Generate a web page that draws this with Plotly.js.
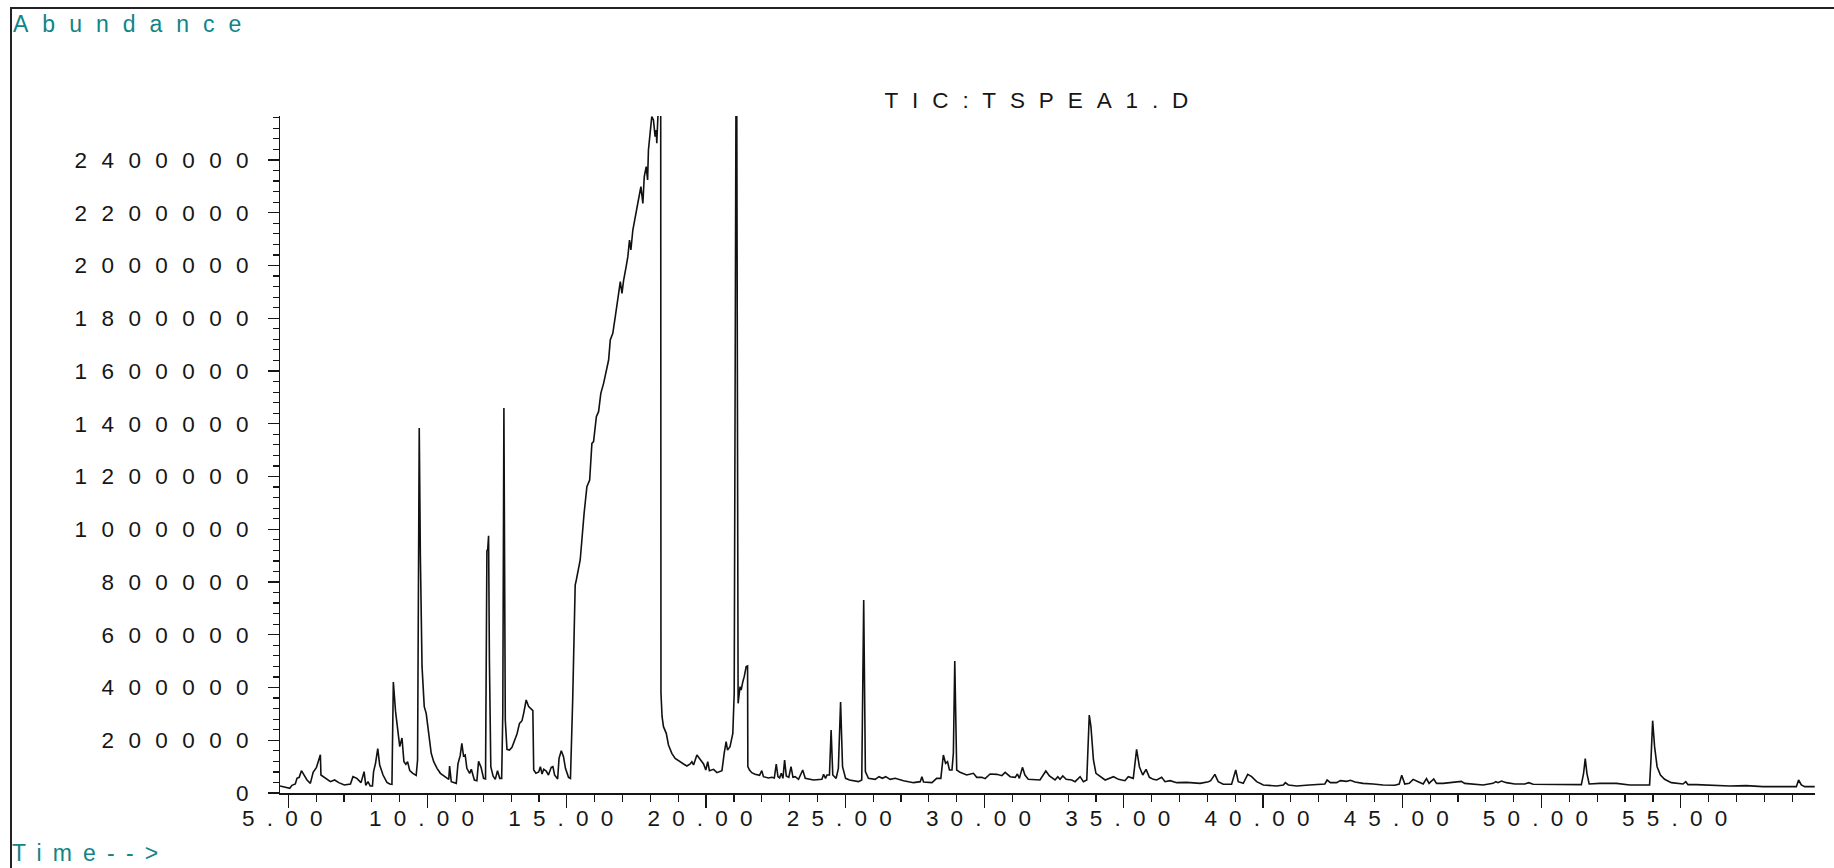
<!DOCTYPE html>
<html>
<head>
<meta charset="utf-8">
<script src="https://cdn.plot.ly/plotly-3.0.1.min.js"></script>
<style>
  html, body { margin: 0; padding: 0; background: #fff; }
  #chart { width: 1834px; height: 868px; }
  .xtick text { letter-spacing: 12.2px; }
  .ytick text { letter-spacing: 14.4px; }
  text.gtitle { letter-spacing: 13.9px; word-spacing: -20px; }
  g.annotation[data-index="0"] text { letter-spacing: 14px; }
  g.annotation[data-index="1"] text { letter-spacing: 11.2px; }
</style>
</head>
<body>
<div id="chart"></div>
<script>
// Retention time (min)
const times = [
  4.70, 4.83, 4.95, 5.05, 5.13, 5.25, 5.31, 5.39, 5.47, 5.55, 5.67, 5.79, 5.89, 6.01, 6.15, 6.17,
  6.33, 6.51, 6.66, 6.81, 7.01, 7.23, 7.32, 7.46, 7.61, 7.72, 7.78, 7.86, 7.94, 8.02, 8.06, 8.13,
  8.21, 8.28, 8.40, 8.54, 8.64, 8.72, 8.77, 8.85, 9.00, 9.08, 9.15, 9.22, 9.28, 9.36, 9.47, 9.59,
  9.64, 9.67, 9.70, 9.74, 9.80, 9.88, 9.95, 10.04, 10.13, 10.22, 10.34, 10.46, 10.64, 10.76, 10.79, 10.85,
  11.03, 11.09, 11.17, 11.23, 11.29, 11.35, 11.41, 11.51, 11.57, 11.68, 11.77, 11.83, 11.92, 12.01, 12.08, 12.11,
  12.13, 12.16, 12.19, 12.22, 12.27, 12.35, 12.43, 12.51, 12.59, 12.66, 12.70, 12.74, 12.79, 12.85, 12.94, 13.03,
  13.11, 13.21, 13.30, 13.39, 13.45, 13.51, 13.54, 13.63, 13.71, 13.78, 13.81, 13.89, 13.99, 14.05, 14.11, 14.17,
  14.26, 14.34, 14.44, 14.50, 14.56, 14.67, 14.72, 14.80, 14.88, 14.95, 15.06, 15.13, 15.21, 15.27, 15.30, 15.34,
  15.48, 15.62, 15.72, 15.82, 15.90, 15.96, 16.06, 16.14, 16.22, 16.32, 16.41, 16.50, 16.56, 16.65, 16.74, 16.83,
  16.92, 16.98, 17.04, 17.13, 17.19, 17.25, 17.30, 17.37, 17.45, 17.51, 17.57, 17.66, 17.73, 17.78, 17.85, 17.90,
  17.93, 17.99, 18.05, 18.11, 18.17, 18.21, 18.23, 18.27, 18.32, 18.37, 18.38, 18.42, 18.47, 18.57, 18.65, 18.77,
  18.89, 19.05, 19.19, 19.31, 19.43, 19.49, 19.55, 19.67, 19.79, 19.91, 19.99, 20.06, 20.12, 20.27, 20.39, 20.57,
  20.65, 20.72, 20.77, 20.86, 20.96, 21.01, 21.09, 21.15, 21.22, 21.26, 21.32, 21.37, 21.44, 21.49, 21.50, 21.56,
  21.64, 21.76, 21.92, 22.00, 22.06, 22.24, 22.36, 22.45, 22.52, 22.58, 22.64, 22.70, 22.76, 22.82, 22.88, 22.97,
  23.05, 23.12, 23.20, 23.32, 23.47, 23.56, 23.86, 24.16, 24.22, 24.29, 24.34, 24.43, 24.49, 24.55, 24.67, 24.75,
  24.83, 24.90, 25.01, 25.15, 25.47, 25.59, 25.66, 25.72, 25.83, 26.07, 26.21, 26.33, 26.45, 26.61, 26.79, 27.09,
  27.45, 27.69, 27.75, 27.81, 28.11, 28.28, 28.43, 28.52, 28.60, 28.67, 28.74, 28.83, 28.88, 28.93, 29.00, 29.12,
  29.36, 29.60, 29.72, 29.90, 30.02, 30.20, 30.44, 30.62, 30.74, 30.92, 31.10, 31.18, 31.25, 31.36, 31.45, 31.57,
  31.99, 32.20, 32.33, 32.53, 32.63, 32.71, 32.81, 32.93, 33.13, 33.25, 33.43, 33.55, 33.67, 33.76, 33.82, 33.91,
  34.00, 34.15, 34.33, 34.63, 34.81, 35.04, 35.16, 35.34, 35.46, 35.56, 35.68, 35.80, 35.92, 36.06, 36.18, 36.36,
  36.48, 36.66, 36.90, 37.26, 37.74, 38.04, 38.12, 38.27, 38.39, 38.57, 38.87, 39.02, 39.11, 39.29, 39.45, 39.59,
  39.77, 40.01, 40.49, 40.73, 40.80, 40.91, 41.21, 41.66, 42.04, 42.22, 42.30, 42.42, 42.64, 42.78, 43.00, 43.14,
  43.30, 43.59, 43.95, 44.31, 44.73, 44.89, 44.98, 45.09, 45.25, 45.39, 45.57, 45.75, 45.87, 45.96, 46.13, 46.23,
  46.47, 46.82, 47.12, 47.24, 47.54, 47.90, 48.26, 48.36, 48.44, 48.56, 48.74, 49.04, 49.40, 49.54, 49.70, 50.29,
  51.01, 51.43, 51.51, 51.57, 51.63, 51.71, 52.09, 52.69, 53.17, 53.88, 53.93, 53.99, 54.06, 54.15, 54.27, 54.42,
  54.66, 54.84, 55.08, 55.18, 55.26, 55.56, 56.04, 56.76, 57.35, 57.95, 58.67, 59.15, 59.23, 59.33, 59.45, 59.81
];

// Total ion current abundance
const abundance = [
  26500, 24000, 21000, 17700, 29100, 34100, 55600, 59400, 84700, 68200, 49300, 36600, 78400, 97300, 145300, 68200,
  55600, 43000, 49300, 39200, 30300, 34100, 61900, 55600, 39200, 80900, 29100, 43000, 26500, 26500, 80900, 112500,
  168100, 106200, 68200, 40400, 34100, 32900, 420900, 308400, 175700, 208500, 118800, 108700, 118800, 84700, 74600, 67000,
  125100, 700000, 1384000, 900000, 480000, 327300, 302000, 226200, 150400, 118800, 93500, 74600, 59400, 51800, 102400, 43000,
  36600, 110000, 141500, 188300, 140300, 144100, 93500, 74600, 89700, 49300, 46800, 120100, 97300, 55600, 53100, 400000,
  917500, 925000, 975600, 500000, 99800, 64500, 51800, 84700, 55600, 55600, 300000, 1459700, 276800, 165600, 163000, 173100,
  194600, 223700, 264100, 274200, 302000, 346300, 352600, 327300, 317200, 312200, 87200, 74600, 79600, 99800, 72000, 89700,
  83400, 68200, 97300, 99800, 68200, 53100, 131400, 160500, 137800, 93500, 59400, 55600, 352600, 757000, 788600, 807600,
  883400, 1060300, 1161400, 1186700, 1325700, 1332000, 1426800, 1445800, 1515300, 1553200, 1603700, 1641600, 1717500, 1742700, 1805900, 1881800,
  1938600, 1894400, 1945000, 1995500, 2033400, 2096600, 2058700, 2134500, 2185100, 2210400, 2248300, 2298800, 2235600, 2336700, 2374600, 2324100,
  2437900, 2501000, 2564200, 2551600, 2488400, 2513700, 2463200, 2564200, 2650000, 2750000, 377900, 289400, 251500, 226200, 182000, 150400,
  131400, 118800, 110000, 102400, 110000, 118800, 106200, 144100, 125100, 110000, 87200, 118800, 84700, 89700, 77100, 84700,
  150400, 194600, 163000, 175700, 226200, 377900, 3200000, 340000, 403100, 390500, 422100, 441100, 479000, 481500, 99800, 87200,
  77100, 70800, 67000, 84700, 61900, 56900, 59400, 56900, 110000, 61900, 56900, 74600, 55600, 125100, 64500, 59400,
  100000, 59400, 61900, 51800, 87200, 55600, 49300, 51800, 70800, 55600, 68200, 68200, 238900, 68200, 55600, 93500,
  345000, 99800, 55600, 49300, 43000, 49300, 731700, 80900, 55600, 51800, 61900, 55600, 61900, 51800, 55600, 46800,
  39200, 43000, 61900, 41700, 39200, 55600, 55600, 144100, 112500, 118800, 87200, 87200, 150000, 500500, 87200, 78400,
  68200, 74600, 59400, 59400, 54300, 72000, 70800, 65700, 78400, 61900, 59400, 72000, 55600, 97300, 68200, 51800,
  49300, 83400, 64500, 49300, 61900, 51800, 64500, 51800, 49300, 43000, 61900, 43000, 49300, 295700, 251500, 125100,
  74600, 61900, 49300, 61900, 51800, 46800, 61900, 55600, 165600, 99800, 68200, 89700, 59400, 51800, 49300, 59400,
  43000, 46800, 39200, 40400, 36600, 43000, 46800, 70800, 43000, 32900, 32900, 87200, 43000, 36600, 70800, 61900,
  43000, 30300, 26500, 30300, 39200, 30300, 26500, 30300, 34100, 34100, 49300, 39200, 39200, 46800, 44200, 48000,
  41700, 36600, 34100, 30300, 29100, 34100, 67000, 34100, 36600, 51800, 43000, 34100, 54300, 36600, 53100, 36600,
  36600, 39200, 44200, 36600, 34100, 30300, 36600, 43000, 39200, 45500, 39200, 34100, 34100, 39200, 32900, 31600,
  31600, 31600, 74600, 130200, 74600, 34100, 36600, 36600, 30300, 30300, 125100, 274200, 175700, 99800, 68200, 51800,
  39200, 36600, 34100, 43000, 31600, 31600, 29100, 26500, 27800, 24000, 24000, 24000, 49300, 30300, 24000, 24000
];

// Axis ticks
const xTickVals = [5, 10, 15, 20, 25, 30, 35, 40, 45, 50, 55];
const xTickText = ['5.00', '10.00', '15.00', '20.00', '25.00', '30.00', '35.00', '40.00', '45.00', '50.00', '55.00'];
const yTickVals = [0, 200000, 400000, 600000, 800000, 1000000, 1200000, 1400000, 1600000, 1800000, 2000000, 2200000, 2400000];
const yTickText = ['0', '200000', '400000', '600000', '800000', '1000000', '1200000', '1400000', '1600000', '1800000', '2000000', '2200000', '2400000'];

// Texts
const chartTitle = 'TIC: TSPEA1.D';
const yLabel = 'Abundance';
const xLabel = 'Time-->';

const FONT = 'Liberation Sans, Arial, Helvetica, sans-serif';
const INK = '#161616';
const TEAL = '#0f8585';

const trace = {
  type: 'scatter',
  mode: 'lines',
  x: times,
  y: abundance,
  line: { color: '#111', width: 1.6 },
  hoverinfo: 'skip'
};

const layout = {
  width: 1834,
  height: 868,
  margin: { l: 280, r: 19, t: 116, b: 75 },
  paper_bgcolor: '#ffffff',
  plot_bgcolor: '#ffffff',
  showlegend: false,
  font: { family: FONT, color: INK, size: 22.5 },
  title: {
    text: chartTitle,
    font: { family: FONT, size: 22.5, color: INK },
    xref: 'container', x: 0.5689, xanchor: 'center',
    yref: 'container', y: 0.8848, yanchor: 'middle'
  },
  xaxis: {
    range: [4.70, 59.82],
    tickmode: 'array',
    tickvals: xTickVals,
    ticktext: xTickText,
    ticks: 'outside',
    ticklen: 13,
    tickwidth: 1.2,
    tickcolor: INK,
    ticklabelstandoff: -9,
    tickfont: { family: FONT, size: 22.5, color: INK },
    showline: true,
    linecolor: INK,
    linewidth: 1.5,
    showgrid: false,
    zeroline: false,
    fixedrange: true,
    minor: { tickmode: 'linear', tick0: 0, dtick: 1, ticks: 'outside', ticklen: 7, tickwidth: 1.2, tickcolor: INK, showgrid: false }
  },
  yaxis: {
    range: [0, 2566800],
    tickmode: 'array',
    tickvals: yTickVals,
    ticktext: yTickText,
    ticks: 'outside',
    ticklen: 11,
    tickwidth: 1.2,
    tickcolor: INK,
    tickfont: { family: FONT, size: 22.5, color: INK },
    showline: true,
    linecolor: INK,
    linewidth: 1.5,
    showgrid: false,
    zeroline: false,
    fixedrange: true,
    minor: { tickmode: 'linear', tick0: 0, dtick: 40000, ticks: 'outside', ticklen: 6, tickwidth: 1.2, tickcolor: INK, showgrid: false }
  },
  annotations: [
    {
      text: yLabel, xref: 'paper', yref: 'paper',
      x: -0.1753, y: 1.1359, xanchor: 'left', yanchor: 'middle', align: 'left',
      showarrow: false, font: { family: FONT, size: 23, color: TEAL }
    },
    {
      text: xLabel, xref: 'paper', yref: 'paper',
      x: -0.1753, y: -0.1093, xanchor: 'left', yanchor: 'bottom', align: 'left',
      borderpad: 0,
      showarrow: false, font: { family: FONT, size: 23, color: TEAL }
    }
  ],
  shapes: [
    {
      type: 'rect', xref: 'paper', yref: 'paper',
      x0: -0.17524, x1: 1.2, y0: -0.3, y1: 1.15953,
      line: { color: '#222', width: 2 }, fillcolor: 'rgba(0,0,0,0)', layer: 'below'
    }
  ]
};

Plotly.newPlot('chart', [trace], layout, { displayModeBar: false, staticPlot: true });
</script>
</body>
</html>
